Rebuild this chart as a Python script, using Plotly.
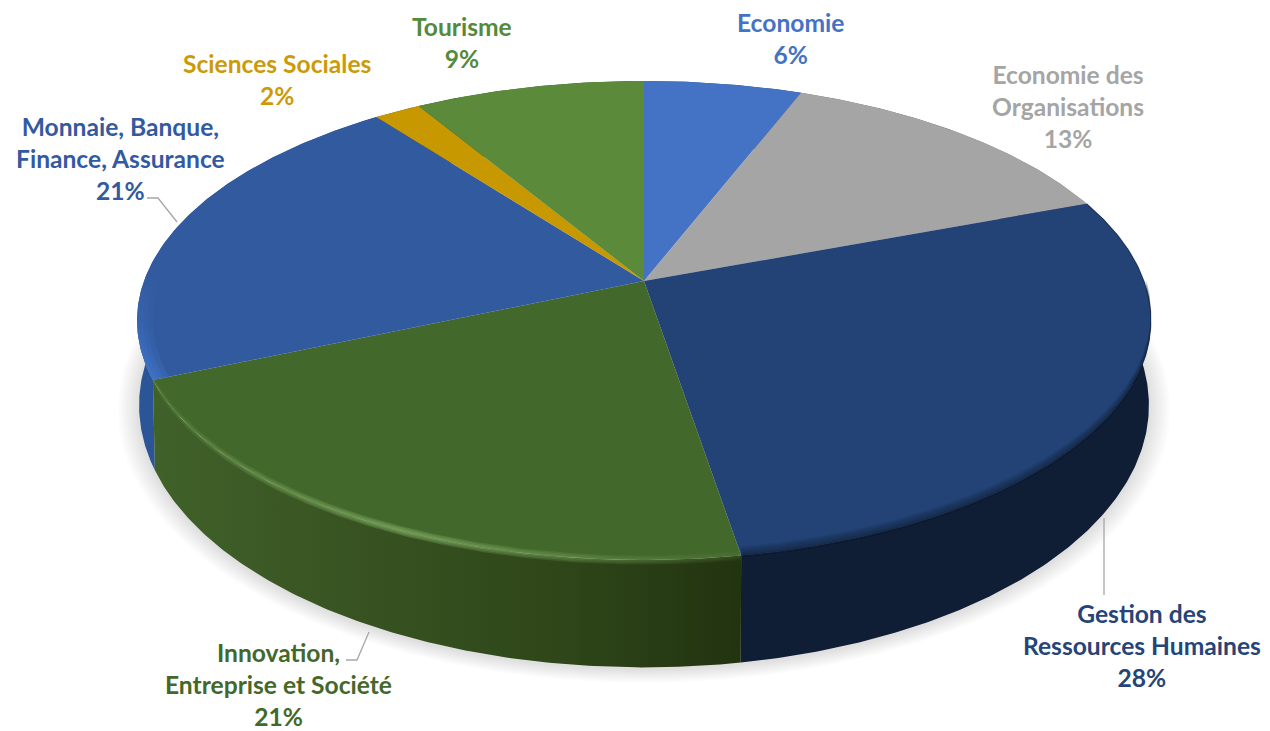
import numpy as np
import plotly.graph_objects as go

# ---------- data ----------
categories = ["Economie", "Economie des Organisations", "Gestion des Ressources Humaines",
              "Innovation, Entreprise et Société", "Monnaie, Banque, Finance, Assurance",
              "Sciences Sociales", "Tourisme"]
values = [5.9, 13.4, 28.1, 21.1, 21.15, 1.75, 8.6]
face_colors = ["#4472C4", "#A5A5A5", "#234377", "#43682B", "#325A9F", "#C89800", "#5A8A3A"]
label_colors = ["#4472C4", "#A5A5A5", "#264478", "#43682B", "#335AA1", "#CC9A06", "#548A3A"]
label_lines = [["Economie"], ["Economie des", "Organisations"], ["Gestion des", "Ressources Humaines"],
               ["Innovation,", "Entreprise et Société"], ["Monnaie, Banque,", "Finance, Assurance"],
               ["Sciences Sociales"], ["Tourisme"]]
label_pos = [(790, 38), (1068, 106), (1142, 645), (278, 684), (120, 158), (277, 79), (462, 42)]

# ---------- projection of the disc (perspective view) ----------
K = 0.165
TOP = dict(cx=644, cy=281, A=500, B=233)
BOT = dict(cx=644, cy=362, A=498, B=255)
cum = np.concatenate([[0], np.cumsum(values)]) / sum(values)


def proj(f, r=1.0, ring=TOP):
    t = 2 * np.pi * np.asarray(f, dtype=float)
    u, v = r * np.sin(t), -r * np.cos(t)
    w = 1 - K * v
    return ring["cx"] + ring["A"] * u / w, ring["cy"] + ring["B"] * v / w


def fgrid(f0, f1):
    return np.linspace(f0, f1, max(3, int((f1 - f0) * 720)))


fig = go.Figure()


def poly(x, y, color):
    fig.add_trace(go.Scatter(x=list(x), y=list(y), mode="lines", fill="toself", fillcolor=color,
                             line=dict(width=0, color=color), hoverinfo="skip", showlegend=False))


def grad_poly(x, y, kind, scale):
    fig.add_trace(go.Scatter(x=list(x), y=list(y), mode="lines", fill="toself", line=dict(width=0),
                             fillgradient=dict(type=kind, colorscale=scale),
                             hoverinfo="skip", showlegend=False))


def line(x, y, color, width=1):
    fig.add_trace(go.Scatter(x=list(x), y=list(y), mode="lines", line=dict(width=width, color=color),
                             hoverinfo="skip", showlegend=False))


def band(f, d0, d1, r0=1.0, r1=1.0):
    """closed outline between two offset copies of the top rim"""
    x0, y0 = proj(f, r0)
    x1, y1 = proj(f, r1)
    return np.concatenate([x0, x1[::-1]]), np.concatenate([y0 + d0, (y1 + d1)[::-1]])


# soft shadow under the disc
ff = np.linspace(0, 1, 361)
for g in np.linspace(15, 0.5, 16):
    sx, sy = proj(ff, 1.0, dict(cx=644, cy=364, A=498 + 1.4 * g, B=255 + 0.75 * g))
    poly(sx, sy, "rgba(100,100,100,0.016)")

# side wall, back slices first
wall_fill = {0: "#2A4A82", 1: "#6C6C6C", 2: "#0F1D35", 4: "#2C5598", 5: "#8A6A00", 6: "#3C5C26"}
for i in [0, 1, 6, 5, 4, 2, 3]:
    f = fgrid(cum[i], cum[i + 1])
    x0, y0 = proj(f)
    x1, y1 = proj(f, 1.0, BOT)
    xs = np.concatenate([x0, x1[::-1]])
    ys = np.concatenate([y0, y1[::-1]])
    if i == 3:
        grad_poly(xs, ys, "horizontal",
                  [[0, "#40612A"], [0.35, "#385321"], [0.7, "#2E4619"], [1, "#223310"]])
    else:
        poly(xs, ys, wall_fill[i])

# top faces
for i in range(len(values)):
    f = fgrid(cum[i], cum[i + 1])
    x, y = proj(f)
    poly(np.concatenate([[TOP["cx"]], x, [TOP["cx"]]]), np.concatenate([[TOP["cy"]], y, [TOP["cy"]]]), face_colors[i])

# ---- bevel on the rim ----
# navy slice: soft darkening towards the wall, thin dark edge further up
f = fgrid(cum[2], cum[3])
x, y = proj(f)
line(x, y, "rgba(15,29,53,0.45)", 1.2)
f = fgrid(0.255, cum[3])
for d in [-9, -7.5, -6, -4.5, -3, -1.5]:
    xb, yb = band(f, d, 1.5)
    poly(xb, yb, "rgba(15,29,53,0.13)")

# green slice: soft lighter ridge on the rim, fading towards its ends
f = fgrid(cum[3], cum[4])
ridge = [[0, "rgba(112,155,85,0.08)"], [0.12, "rgba(112,155,85,0.2)"], [0.42, "rgba(126,170,98,0.36)"],
         [0.7, "rgba(112,155,85,0.25)"], [1, "rgba(90,125,65,0.10)"]]
for d0, d1 in [(-4.5, 4.5), (-3, 3), (-1.5, 1.5)]:
    xb, yb = band(f, d0, d1)
    grad_poly(xb, yb, "horizontal", ridge)

# blue slice: lighter rim on the far left, fading upwards
f = fgrid(cum[4], cum[4] + 0.07)
rim = [[0, "rgba(64,118,205,0.36)"], [0.5, "rgba(64,118,205,0.12)"], [1, "rgba(64,118,205,0)"]]
for r0 in [0.97, 0.98, 0.988, 0.995]:
    xb, yb = band(f, 0, 0, r0, 1.0)
    grad_poly(xb, yb, "vertical", rim)

# leader lines
leaders = [([1104, 1104], [518, 595]), ([147, 158, 177], [198, 198, 222]), ([346, 357, 369], [660, 660, 632])]
for lx, ly in leaders:
    line(lx, ly, "#A6A6A6", 1.3)

# labels
for i, c in enumerate(categories):
    text = "<br>".join(label_lines[i] + [f"{round(values[i])}%"])
    fig.add_annotation(x=label_pos[i][0], y=label_pos[i][1], text=f"<b>{text}</b>", showarrow=False,
                       xanchor="center", yanchor="middle", align="center",
                       font=dict(family="Lato", size=24.6, color=label_colors[i]))

fig.update_layout(
    width=1270, height=731, autosize=False, margin=dict(l=0, r=0, t=0, b=0),
    paper_bgcolor="white", plot_bgcolor="white", showlegend=False,
    xaxis=dict(range=[0, 1270], visible=False, fixedrange=True),
    yaxis=dict(range=[731, 0], visible=False, fixedrange=True),
)
fig.write_html("out.html", config={"displayModeBar": False},
               post_script="document.body.style.margin='0';document.body.style.overflow='hidden';")
